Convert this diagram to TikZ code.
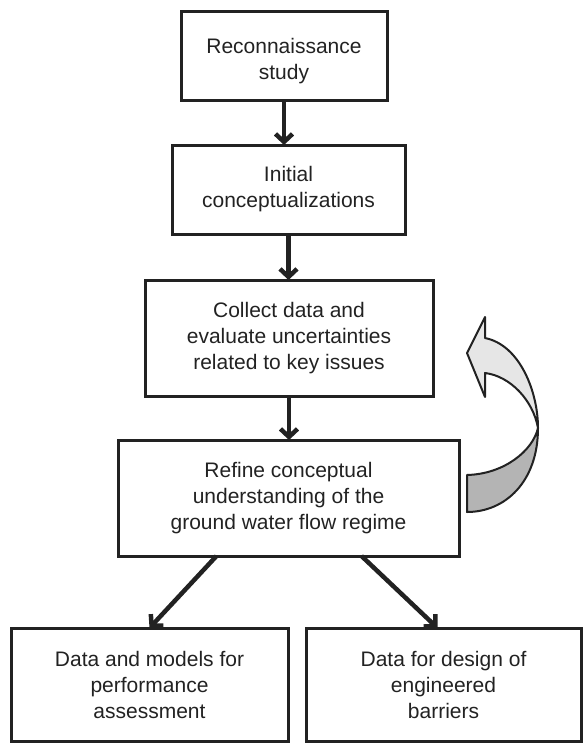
\documentclass[tikz,border=0pt]{standalone}
\usepackage{fontspec}
\setmainfont{Liberation Sans}
\usetikzlibrary{arrows.meta,positioning}

\definecolor{ink}{HTML}{222222}
\definecolor{ribbonback}{HTML}{B4B4B4}
\definecolor{ribbonfront}{HTML}{E6E6E6}

\begin{document}
\begin{tikzpicture}[x=1pt, y=-1pt,
    box/.style={draw=ink, line width=3pt, text=ink, align=center, inner sep=0pt, outer sep=0pt,
                font=\fontsize{21}{26}\selectfont},
    flow/.style={-{Straight Barb[length=8pt,width=17pt]}, line width=4.5pt, ink},
    loopback/.style={draw=ink, line width=2pt, line join=round}]
  \useasboundingbox (0,0) rectangle (582,744);

  \node[box, minimum width=206pt, minimum height=89pt]  (recon) at (284,55.5) {\rule{0pt}{27pt}Reconnaissance\\study};
  \node[box, minimum width=233pt, minimum height=89pt]  (initial) [below=45pt of recon, xshift=4.5pt] {Initial\\conceptualizations};
  \node[box, minimum width=288pt, minimum height=116pt] (collect) [below=46pt of initial, xshift=0.5pt] {Collect data and\\evaluate uncertainties\\related to key issues};
  \node[box, minimum width=341pt, minimum height=116pt] (refine)  [below=44pt of collect, xshift=-0.5pt] {Refine conceptual\\understanding of the\\ground water flow regime};
  \node[box, minimum width=277pt, minimum height=113pt] (perf)    [below=72pt of refine, xshift=-139pt] {Data and models for\\performance\\assessment};
  \node[box, minimum width=275pt, minimum height=113pt] (barrier) [below=72pt of refine, xshift=155pt] {Data for design of\\engineered\\barriers};

  \path[flow] (recon)   edge (recon |- initial.north)
              (initial) edge (initial |- collect.north)
              (collect) edge (collect |- refine.north)
              ([xshift=-72pt]refine.south) edge (perf.north)
              ([xshift=73pt]refine.south)  edge ([xshift=-6pt]barrier.north);

  % twisted ribbon arrow, back side first
  \filldraw[loopback, fill=ribbonback]
    (467,512) .. controls (505,512) and (538,482) .. (538,428)
    .. controls (533,450) and (505,474) .. (467,475) -- cycle;
  \filldraw[loopback, fill=ribbonfront]
    (538,428) .. controls (538,392) and (520,345) .. (485,338)
    -- (485,317) -- (467,353) -- (485,397) -- (485,373)
    .. controls (510,376) and (533,400) .. (538,428) -- cycle;
\end{tikzpicture}
\end{document}
